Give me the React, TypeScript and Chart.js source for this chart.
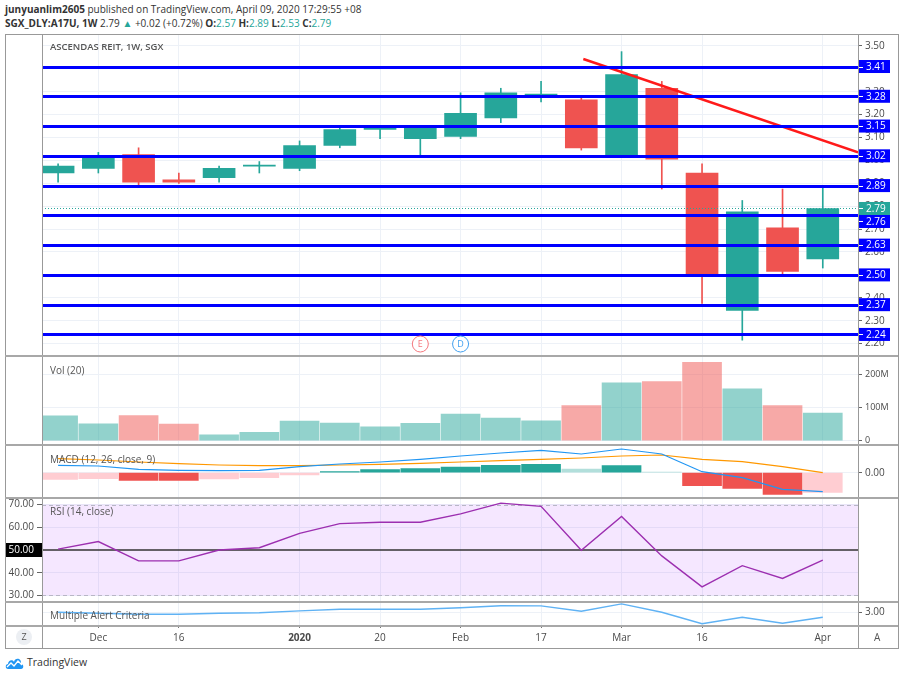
import React, { useEffect, useRef } from "react";
import Chart from "chart.js/auto";

// weekly candles, Nov 25 2019 .. Apr 6 2020
const weeks = [
  "2019-11-25", "2019-12-02", "2019-12-09", "2019-12-16", "2019-12-23",
  "2019-12-30", "2020-01-06", "2020-01-13", "2020-01-20", "2020-01-27",
  "2020-02-03", "2020-02-10", "2020-02-17", "2020-02-24", "2020-03-02",
  "2020-03-09", "2020-03-16", "2020-03-23", "2020-03-30", "2020-04-06",
];
const opens = [2.945, 2.965, 3.025, 2.915, 2.925, 2.975, 2.965, 3.065, 3.135, 3.095, 3.105, 3.185, 3.285, 3.265, 3.025, 3.315, 2.945, 2.345, 2.705, 2.57];
const highs = [2.985, 3.035, 3.055, 2.945, 2.975, 2.995, 3.085, 3.14, 3.145, 3.145, 3.295, 3.315, 3.345, 3.275, 3.475, 3.345, 2.985, 2.825, 2.875, 2.89];
const lows = [2.905, 2.945, 2.885, 2.9, 2.905, 2.945, 2.955, 3.055, 3.095, 3.025, 3.095, 3.165, 3.255, 3.045, 3.015, 2.875, 2.375, 2.215, 2.495, 2.53];
const closes = [2.975, 3.015, 2.905, 2.905, 2.965, 2.98, 3.065, 3.135, 3.14, 3.145, 3.205, 3.295, 3.29, 3.055, 3.375, 3.005, 2.505, 2.775, 2.515, 2.79];

const volumes = [75e6, 51e6, 76e6, 50e6, 18e6, 25e6, 59e6, 53e6, 42e6, 52e6, 80e6, 68e6, 60e6, 106e6, 174e6, 178e6, 236e6, 156e6, 106e6, 83e6];

const macdLine = [0.0146, 0.0134, 0.0066, 0.0046, 0.004, 0.0046, 0.012, 0.0174, 0.0214, 0.0266, 0.0334, 0.0394, 0.0446, 0.0374, 0.0474, 0.0374, 0.002, -0.01, -0.0334, -0.038];
const signalLine = [0.028, 0.0254, 0.0214, 0.018, 0.0154, 0.014, 0.014, 0.0154, 0.0166, 0.0186, 0.0214, 0.024, 0.0266, 0.0294, 0.0334, 0.0354, 0.0266, 0.022, 0.012, 0.0];
const macdHist = [-0.0134, -0.012, -0.0154, -0.0156, -0.0126, -0.01, -0.0046, 0.002, 0.006, 0.008, 0.0114, 0.0146, 0.0166, 0.0074, 0.014, 0.0014, -0.026, -0.0314, -0.0434, -0.0394];

const rsi = [50.4, 53.7, 45.2, 45.2, 50.0, 51.0, 57.3, 61.6, 62.2, 62.2, 65.9, 70.6, 69.2, 49.9, 64.7, 47.4, 33.8, 43.1, 37.5, 45.5];
const rsiBands = [30, 50, 70];

const alertCriteria = [3.0, 2.95, 2.9, 2.9, 2.95, 2.98, 3.07, 3.15, 3.15, 3.15, 3.23, 3.33, 3.32, 3.05, 3.42, 3.0, 2.43, 2.75, 2.45, 2.75];

const levels = [3.41, 3.28, 3.15, 3.02, 2.89, 2.76, 2.63, 2.5, 2.37, 2.24];
const lastPrice = 2.79;
const trendline = [
  { x: 13.05, y: 3.443 },
  { x: 19.875, y: 3.035 },
];
const events = [
  { i: 9, label: "E", color: "#f4787e" },
  { i: 10, label: "D", color: "#42a0ef" },
];

const priceTicks = [2.2, 2.3, 2.4, 2.5, 2.6, 2.7, 2.8, 2.9, 3.0, 3.1, 3.2, 3.3, 3.4, 3.5];
const volTicks = [0, 100e6, 200e6];
const macdTicks = [0];
const rsiTicks = [30, 40, 60, 70];
const alertTicks = [3];
const timeTicks = [1, 3, 6, 8, 10, 12, 14, 16, 19];
const timeLabels = ["Dec", "16", "2020", "20", "Feb", "17", "Mar", "16", "Apr"];

const GREEN = "#26a69a";
const RED = "#ef5350";
const GRID = "#edf1f7";
const TEXT = "#4a4a4a";
const FONT = "'Open Sans', sans-serif";

Chart.defaults.font.family = FONT;
Chart.defaults.color = TEXT;

const X_MIN = -0.4;
const X_MAX = 19.875;
const W = 893;

const up = closes.map((c, i) => c >= opens[i]);

function xAxis(showLabels: boolean) {
  return {
    type: "linear",
    min: X_MIN,
    max: X_MAX,
    offset: false,
    bounds: "data",
    afterBuildTicks: (s: any) => {
      s.ticks = timeTicks.map((v) => ({ value: v }));
    },
    afterFit: (s: any) => {
      s.height = showLabels ? 22 : 0;
      s.paddingLeft = 0;
      s.paddingRight = 0;
    },
    grid: { color: GRID, offset: false, drawTicks: showLabels, tickLength: 3, tickColor: "#777" },
    border: { display: false },
    ticks: {
      display: showLabels,
      autoSkip: false,
      maxRotation: 0,
      padding: 4,
      color: TEXT,
      font: (c: any) => ({ size: 10, weight: timeLabels[c.index] === "2020" ? "bold" : "normal" }),
      callback: (_v: any, i: number) => timeLabels[i],
    },
  };
}

function yAxis(
  min: number,
  max: number,
  tickValues: number[],
  fmt: (v: number) => string,
  position: "left" | "right" = "right",
  width = 40,
  size = 10
) {
  return {
    type: "linear",
    position,
    min,
    max,
    bounds: "data",
    afterBuildTicks: (s: any) => {
      s.ticks = tickValues.map((v) => ({ value: v }));
    },
    afterFit: (s: any) => {
      s.width = width;
      s.paddingTop = 0;
      s.paddingBottom = 0;
    },
    grid: { color: GRID, tickColor: "#666", tickLength: 4 },
    border: { display: false },
    ticks: { autoSkip: false, padding: 3, color: TEXT, font: { size }, callback: (v: any) => fmt(Number(v)) },
  };
}

const baseOptions = {
  animation: false,
  responsive: false,
  events: [],
  plugins: { legend: { display: false }, tooltip: { enabled: false } },
};

const mainOverlay = {
  id: "mainOverlay",
  afterDatasetsDraw(chart: any) {
    const { ctx, chartArea: a, scales } = chart;
    const { x, y } = scales;
    ctx.save();
    ctx.beginPath();
    ctx.rect(a.left, a.top, a.right - a.left, a.bottom - a.top);
    ctx.clip();
    const py = y.getPixelForValue(lastPrice);
    ctx.setLineDash([1, 2]);
    ctx.strokeStyle = GREEN;
    ctx.lineWidth = 1;
    ctx.beginPath();
    ctx.moveTo(a.left, py);
    ctx.lineTo(a.right, py);
    ctx.stroke();
    ctx.setLineDash([]);
    ctx.strokeStyle = "#0000ff";
    ctx.lineWidth = 3;
    levels.forEach((l) => {
      const ly = Math.round(y.getPixelForValue(l)) + 0.5;
      ctx.beginPath();
      ctx.moveTo(a.left, ly);
      ctx.lineTo(a.right, ly);
      ctx.stroke();
    });
    events.forEach((ev) => {
      const ex = x.getPixelForValue(ev.i);
      const ey = a.bottom - 11;
      ctx.beginPath();
      ctx.arc(ex, ey, 8, 0, Math.PI * 2);
      ctx.fillStyle = "#fff";
      ctx.fill();
      ctx.strokeStyle = ev.color;
      ctx.lineWidth = 1;
      ctx.stroke();
      ctx.fillStyle = ev.color;
      ctx.font = `9px ${FONT}`;
      ctx.textAlign = "center";
      ctx.textBaseline = "middle";
      ctx.fillText(ev.label, ex, ey + 0.5);
    });
    ctx.restore();
  },
  afterDraw(chart: any) {
    const { ctx, chartArea: a, scales } = chart;
    const y = scales.y;
    const lastY = y.getPixelForValue(lastPrice);
    const box = (py: number, bg: string, text: string) => {
      ctx.fillStyle = bg;
      ctx.fillRect(a.right + 1, py - 6.5, 31, 13);
      ctx.strokeStyle = "#fff";
      ctx.lineWidth = 1;
      ctx.beginPath();
      ctx.moveTo(a.right + 1, Math.round(py) + 0.5);
      ctx.lineTo(a.right + 5, Math.round(py) + 0.5);
      ctx.stroke();
      ctx.fillStyle = "#fff";
      ctx.font = `10px ${FONT}`;
      ctx.textAlign = "left";
      ctx.textBaseline = "middle";
      ctx.fillText(text, a.right + 8, py + 0.5);
    };
    ctx.save();
    box(lastY, GREEN, lastPrice.toFixed(2));
    levels.forEach((l) => {
      let ly = y.getPixelForValue(l);
      if (Math.abs(ly - lastY) < 13) ly = lastY + 13;
      box(ly, "#0000ff", l.toFixed(2));
    });
    ctx.restore();
  },
};

const rsiOverlay = {
  id: "rsiOverlay",
  beforeDatasetsDraw(chart: any) {
    const { ctx, chartArea: a, scales } = chart;
    const y = scales.y;
    const lo = y.getPixelForValue(rsiBands[0]);
    const mid = y.getPixelForValue(rsiBands[1]);
    const hi = y.getPixelForValue(rsiBands[2]);
    ctx.save();
    ctx.fillStyle = "rgba(153,21,255,0.1)";
    ctx.fillRect(a.left, hi, a.right - a.left, lo - hi);
    ctx.strokeStyle = "#b8b6c6";
    ctx.lineWidth = 1;
    ctx.setLineDash([4, 3]);
    [hi, lo].forEach((py) => {
      ctx.beginPath();
      ctx.moveTo(a.left, Math.round(py) + 0.5);
      ctx.lineTo(a.right, Math.round(py) + 0.5);
      ctx.stroke();
    });
    ctx.setLineDash([]);
    ctx.strokeStyle = "#333";
    ctx.lineWidth = 1.5;
    ctx.beginPath();
    ctx.moveTo(a.left, mid);
    ctx.lineTo(a.right, mid);
    ctx.stroke();
    ctx.restore();
  },
  afterDraw(chart: any) {
    const { ctx, chartArea: a, scales } = chart;
    const mid = scales.y.getPixelForValue(rsiBands[1]);
    ctx.save();
    ctx.fillStyle = "#000";
    ctx.fillRect(0, mid - 7, a.left, 14);
    ctx.fillStyle = "#fff";
    ctx.font = `10px ${FONT}`;
    ctx.textAlign = "right";
    ctx.textBaseline = "middle";
    ctx.fillText(rsiBands[1].toFixed(2), a.left - 8, mid + 0.5);
    ctx.restore();
  },
};

function mainConfig(): any {
  return {
    type: "bar",
    data: {
      datasets: [
        { type: "line", data: trendline, borderColor: "#ff1a1a", borderWidth: 2.5, pointRadius: 0 },
        {
          type: "bar",
          data: opens.map((o, i) => ({ x: i, y: [o, closes[i]] })),
          backgroundColor: up.map((u) => (u ? GREEN : RED)),
          barThickness: 32,
          minBarLength: 1,
          grouped: false,
          borderWidth: 0,
        },
        {
          type: "bar",
          data: lows.map((l, i) => ({ x: i, y: [l, highs[i]] })),
          backgroundColor: up.map((u) => (u ? GREEN : RED)),
          barThickness: 1,
          grouped: false,
          borderWidth: 0,
        },
      ],
    },
    options: {
      ...baseOptions,
      layout: { padding: { left: 37, right: 0, top: 0, bottom: 0 } },
      scales: {
        x: xAxis(false),
        y: yAxis(2.1502, 3.5476, priceTicks, (v) => v.toFixed(2)),
      },
    },
    plugins: [mainOverlay],
  };
}

function volConfig(): any {
  return {
    type: "bar",
    data: {
      datasets: [
        {
          data: volumes.map((v, i) => ({ x: i, y: v })),
          backgroundColor: up.map((u) => (u ? "rgba(38,166,154,0.5)" : "rgba(239,83,80,0.5)")),
          barThickness: 39,
          grouped: false,
          borderWidth: 0,
        },
      ],
    },
    options: {
      ...baseOptions,
      layout: { padding: { left: 37, right: 0, top: 0, bottom: 0 } },
      scales: {
        x: xAxis(false),
        y: yAxis(-9.9e6, 252e6, volTicks, (v) => (v === 0 ? "0" : `${v / 1e6}M`), "right", 40, 9),
      },
    },
  };
}

function macdConfig(): any {
  const histColors = macdHist.map((h, i) => {
    const prev = i > 0 ? macdHist[i - 1] : h - 1;
    if (h >= 0) return h > prev ? GREEN : "#b2dfdb";
    return h > prev ? "#ffcdd2" : RED;
  });
  return {
    type: "bar",
    data: {
      datasets: [
        { type: "line", data: macdLine.map((v, i) => ({ x: i, y: v })), borderColor: "#2196f3", borderWidth: 1.2, pointRadius: 0 },
        { type: "line", data: signalLine.map((v, i) => ({ x: i, y: v })), borderColor: "#ff9800", borderWidth: 1.2, pointRadius: 0 },
        {
          type: "bar",
          data: macdHist.map((v, i) => ({ x: i, y: v })),
          backgroundColor: histColors,
          barThickness: 39,
          grouped: false,
          borderWidth: 0,
        },
      ],
    },
    options: {
      ...baseOptions,
      layout: { padding: { left: 37, right: 0, top: 0, bottom: 0 } },
      scales: {
        x: xAxis(false),
        y: yAxis(-0.0486, 0.0534, macdTicks, (v) => v.toFixed(2)),
      },
    },
  };
}

function rsiConfig(): any {
  return {
    type: "line",
    data: {
      datasets: [
        { data: rsi.map((v, i) => ({ x: i, y: v })), borderColor: "#9c2fb0", borderWidth: 1.4, pointRadius: 0 },
      ],
    },
    options: {
      ...baseOptions,
      layout: { padding: { left: 0, right: 40, top: 0, bottom: 0 } },
      scales: {
        x: xAxis(false),
        y: { ...yAxis(27.58, 72.42, rsiTicks, (v) => v.toFixed(2), "left", 37), grid: { color: GRID, tickColor: "#666", tickLength: 5 } },
      },
    },
    plugins: [rsiOverlay],
  };
}

function alertConfig(): any {
  return {
    type: "line",
    data: {
      datasets: [
        { data: alertCriteria.map((v, i) => ({ x: i, y: v })), borderColor: "#5fb2f4", borderWidth: 1.4, pointRadius: 0 },
      ],
    },
    options: {
      ...baseOptions,
      layout: { padding: { left: 37, right: 0, top: 0, bottom: 0 } },
      scales: {
        x: xAxis(true),
        y: yAxis(2.365, 3.465, alertTicks, (v) => v.toFixed(2)),
      },
    },
  };
}

function Pane({ top, height, build }: { top: number; height: number; build: () => any }) {
  const canvasRef = useRef<HTMLCanvasElement | null>(null);
  useEffect(() => {
    if (!canvasRef.current) return;
    const chart = new Chart(canvasRef.current, build());
    return () => chart.destroy();
  }, [build]);
  return (
    <canvas
      ref={canvasRef}
      width={W}
      height={height}
      style={{ position: "absolute", left: 5, top, width: W, height }}
    />
  );
}

const label: React.CSSProperties = {
  position: "absolute",
  left: 50,
  fontSize: 10,
  lineHeight: "12px",
  color: "#555",
  whiteSpace: "nowrap",
};

function Sep({ top }: { top: number }) {
  return <div style={{ position: "absolute", left: 5, top, width: 893, height: 2, background: "#a8a8a8" }} />;
}

export default function App() {
  return (
    <div
      style={{
        position: "absolute",
        left: 0,
        top: 0,
        width: 900,
        height: 677,
        background: "#fff",
        fontFamily: FONT,
        color: "#333",
        overflow: "hidden",
      }}
    >
      <div style={{ position: "absolute", left: 5, top: 3, fontSize: 10, lineHeight: "13px", whiteSpace: "nowrap" }}>
        <b>junyuanlim2605</b> published on TradingView.com, April 09, 2020 17:29:55 +08
      </div>
      <div style={{ position: "absolute", left: 5, top: 17, fontSize: 10, lineHeight: "13px", whiteSpace: "nowrap" }}>
        <b>SGX_DLY:A17U, 1W</b> 2.79 <span style={{ color: GREEN }}>▲</span> +0.02 (+0.72%) <b>O:</b>
        <span style={{ color: GREEN }}>2.57</span> <b>H:</b>
        <span style={{ color: GREEN }}>2.89</span> <b>L:</b>
        <span style={{ color: GREEN }}>2.53</span> <b>C:</b>
        <span style={{ color: GREEN }}>2.79</span>
      </div>

      <Pane top={35} height={320} build={mainConfig} />
      <Pane top={357} height={87} build={volConfig} />
      <Pane top={446} height={51} build={macdConfig} />
      <Pane top={499} height={102} build={rsiConfig} />
      <Pane top={603} height={44} build={alertConfig} />

      {/* frame */}
      <div style={{ position: "absolute", left: 5, top: 34, width: 892, height: 613, border: "1px solid #999" }} />
      <div style={{ position: "absolute", left: 42, top: 34, width: 1, height: 614, background: "#999" }} />
      <div style={{ position: "absolute", left: 858, top: 34, width: 1, height: 614, background: "#999" }} />
      <Sep top={355} />
      <Sep top={444} />
      <Sep top={497} />
      <Sep top={601} />
      <Sep top={625} />

      <div style={{ ...label, top: 41, fontSize: 9.5, fontWeight: 600 }}>ASCENDAS REIT, 1W, SGX</div>
      <div style={{ ...label, top: 364 }}>Vol (20)</div>
      <div style={{ ...label, top: 453 }}>MACD (12, 26, close, 9)</div>
      <div style={{ ...label, top: 505 }}>RSI (14, close)</div>
      <div style={{ ...label, top: 609 }}>Multiple Alert Criteria</div>

      <div
        style={{
          position: "absolute",
          left: 16,
          top: 629,
          width: 16,
          height: 16,
          borderRadius: 8,
          background: "#eceff3",
          fontSize: 9,
          lineHeight: "16px",
          textAlign: "center",
          color: "#555",
        }}
      >
        Z
      </div>
      <div style={{ position: "absolute", left: 874, top: 631, fontSize: 10, lineHeight: "12px", color: "#555" }}>A</div>

      <svg style={{ position: "absolute", left: 5, top: 655 }} width={19} height={15} viewBox="0 0 19 15">
        <path d="M3 14 C0 14 0 9 3 9 C3 5 8 4 9 7 C10 2 17 3 16 9 C19 9 19 14 16 14 Z" fill="#2196f3" />
        <polyline points="2,12 6,8 9,11 13,6 17,10" fill="none" stroke="#fff" strokeWidth={1.3} />
      </svg>
      <div style={{ position: "absolute", left: 27, top: 656, fontSize: 10.5, lineHeight: "13px", color: "#333" }}>
        TradingView
      </div>
    </div>
  );
}
